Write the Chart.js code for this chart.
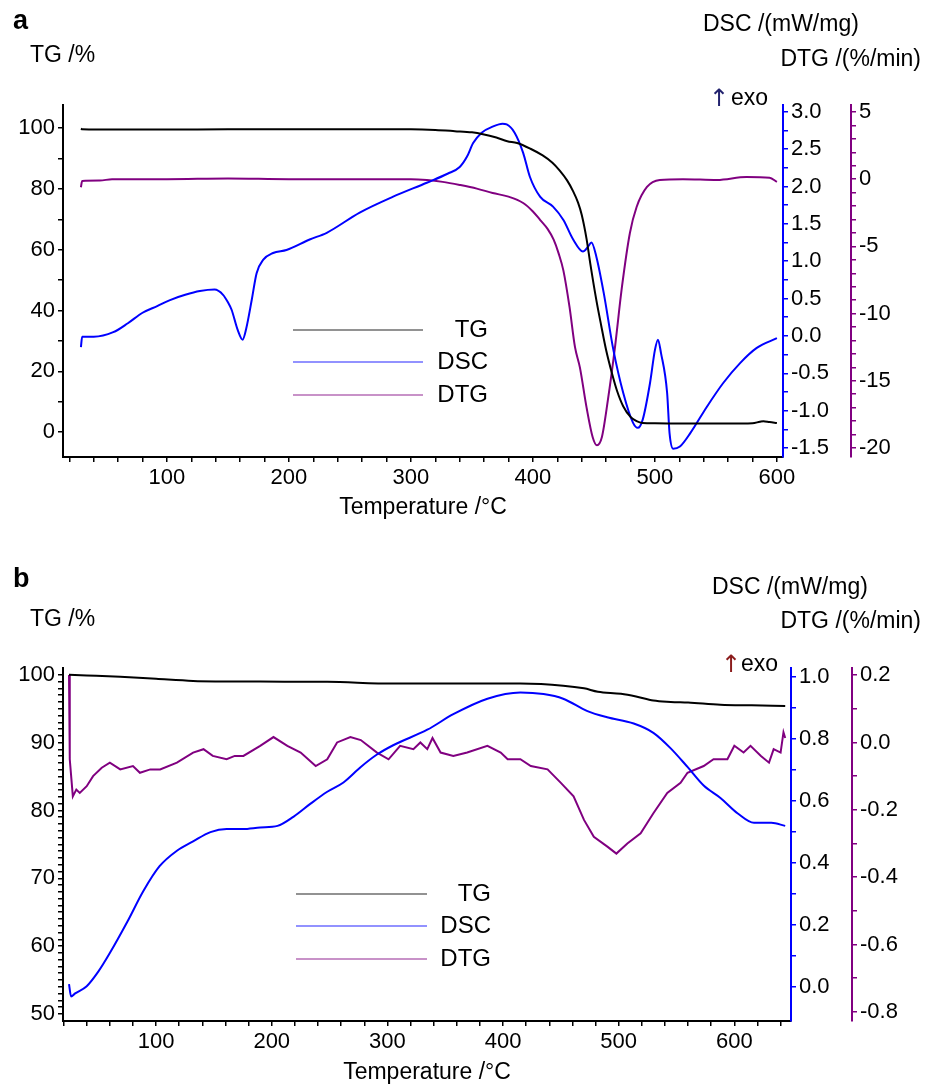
<!DOCTYPE html>
<html>
<head>
<meta charset="utf-8">
<script src="https://cdn.jsdelivr.net/npm/chart.js@4.4.1/dist/chart.umd.min.js"></script>
<style>
  html, body { margin: 0; padding: 0; background: #fff; }
  #wrapA { position: absolute; left: 0; top: 0; width: 936px; height: 540px; }
  #wrapB { position: absolute; left: 0; top: 540px; width: 936px; height: 546px; }
</style>
</head>
<body>
<div id="wrapA"><canvas id="chartA" width="936" height="540"></canvas></div>
<div id="wrapB"><canvas id="chartB" width="936" height="546"></canvas></div>
<script>
// ---- panel a data ----
const tempA_TG = [29.5, 30.5, 60, 100, 150, 200, 250, 300, 320, 336, 350, 359, 370, 379, 387, 398, 408, 416, 422, 428, 433, 437, 440, 444, 447, 452, 456, 460, 465, 469, 474, 480, 485, 490, 500, 530, 560, 580, 586, 589, 594, 600];
const tgA = [99.8, 99.6, 99.5, 99.5, 99.6, 99.6, 99.6, 99.6, 99.4, 99.0, 98.6, 98.0, 96.9, 95.7, 95.1, 93.2, 91.0, 88.6, 86.0, 82.8, 79.2, 75.5, 71.5, 63.5, 55.5, 43.4, 35.0, 27, 19, 13.5, 8.5, 5.0, 3.6, 3.0, 2.9, 2.8, 2.8, 2.9, 3.4, 3.6, 3.3, 3.0];

const tempA_DSC = [29.5, 30.5, 40, 56, 68, 80, 92, 102.5, 115, 127, 139, 146, 150, 153, 158, 162, 165, 169.5, 173.5, 179, 187, 198, 217, 231, 258, 285, 313, 330, 340, 346, 351, 358, 367, 375, 378.5, 385, 392, 397.5, 406, 416.5, 425, 433, 441, 445, 448, 452, 458, 466, 474, 482, 486, 490, 496, 500, 502.5, 505, 510, 512, 515, 520.5, 529, 542.5, 556, 570, 583.5, 600];
const dscA = [-0.15, -0.01, -0.01, 0.05, 0.17, 0.31, 0.40, 0.48, 0.55, 0.60, 0.62, 0.55, 0.45, 0.35, 0.08, -0.05, 0.10, 0.48, 0.84, 1.02, 1.11, 1.15, 1.29, 1.38, 1.65, 1.86, 2.05, 2.17, 2.26, 2.40, 2.58, 2.72, 2.80, 2.84, 2.83, 2.72, 2.45, 2.13, 1.86, 1.73, 1.55, 1.29, 1.13, 1.19, 1.25, 1.06, 0.58, -0.19, -0.76, -1.16, -1.23, -1.12, -0.63, -0.19, -0.05, -0.23, -0.76, -1.30, -1.51, -1.48, -1.30, -0.95, -0.63, -0.36, -0.16, -0.03];

const tempA_DTG = [29.5, 30.5, 45, 55, 100, 150, 200, 250, 300, 313, 326, 340, 354, 367, 380, 392, 400, 406, 412, 417, 421, 425, 430, 434.5, 438.5, 444, 449, 452.5, 456.5, 461.5, 467, 473, 479.5, 485, 493.5, 504, 523, 551, 575, 594, 600];
const dtgA = [-0.6, -0.13, -0.1, 0.0, 0.0, 0.05, 0.0, 0.0, 0.0, -0.06, -0.2, -0.43, -0.7, -1.03, -1.3, -1.77, -2.4, -3.04, -3.7, -4.5, -5.5, -6.8, -9.5, -12.5, -14, -17, -19.2, -19.8, -19.2, -16.4, -12.7, -8.0, -4.0, -2.07, -0.58, -0.06, 0.0, -0.06, 0.16, 0.1, -0.2];

// ---- panel b data ----
const tempB_TG = [24.7, 40, 69, 100, 132, 190, 248, 305, 363, 415, 452, 470, 482, 502, 515, 530, 545, 560, 588, 615, 644];
const tgB = [100.0, 99.9, 99.7, 99.4, 99.1, 99.0, 98.96, 98.7, 98.7, 98.7, 98.4, 98.0, 97.5, 97.2, 96.8, 96.2, 96.0, 95.9, 95.6, 95.5, 95.4];

const tempB_DSC = [24.7, 26.5, 30, 40, 50, 60, 75, 89, 103, 118, 132, 147, 161, 175, 190, 205, 219, 233, 248, 262, 277, 291, 305, 334.5, 357, 386.5, 415, 435, 452, 473, 490, 513, 530, 545, 559.5, 573.5, 588, 603, 617, 632, 644];
const dscB = [0.01, -0.03, -0.02, 0.003, 0.05, 0.11, 0.21, 0.31, 0.39, 0.44, 0.47, 0.50, 0.51, 0.51, 0.515, 0.52, 0.55, 0.59, 0.63, 0.66, 0.71, 0.75, 0.78, 0.83, 0.88, 0.93, 0.95, 0.945, 0.93, 0.89, 0.87, 0.85, 0.82, 0.77, 0.71, 0.65, 0.61, 0.56, 0.53, 0.53, 0.52];

const tempB_DTG = [24.7, 25.2, 25.5, 28, 31, 34, 40, 45.5, 53, 60, 69, 80, 86, 95, 103.5, 118, 132, 141, 149, 161, 168, 175.5, 190, 201.5, 213.5, 225, 238, 248, 256.5, 268, 277, 291, 301, 311, 322.5, 328.5, 334.5, 339, 346, 357, 369, 386.5, 398, 404, 415, 424, 438.5, 450, 461, 470, 478.5, 490.5, 498, 507.5, 519, 530, 542, 553.5, 559.5, 573.5, 582, 594, 600, 608, 614, 623, 630, 634, 640, 642.5, 644];
const dtgB = [0.2, 0.05, -0.05, -0.16, -0.14, -0.15, -0.13, -0.10, -0.075, -0.06, -0.08, -0.07, -0.09, -0.08, -0.08, -0.06, -0.03, -0.02, -0.04, -0.05, -0.04, -0.04, -0.01, 0.016, -0.01, -0.03, -0.07, -0.05, 0.0, 0.016, 0.007, -0.03, -0.05, -0.01, -0.02, 0.0, -0.02, 0.013, -0.03, -0.04, -0.03, -0.01, -0.03, -0.05, -0.05, -0.07, -0.08, -0.12, -0.16, -0.23, -0.28, -0.31, -0.33, -0.30, -0.27, -0.21, -0.15, -0.12, -0.09, -0.07, -0.05, -0.05, -0.01, -0.03, -0.01, -0.04, -0.06, -0.02, -0.03, 0.03, 0.013];

const seriesNames = ['TG', 'DSC', 'DTG'];
const seriesColors = ['#000000', '#0000ff', '#800080'];

const FONT = '"Liberation Sans", Arial, sans-serif';

function pts(xs, ys) {
  return xs.map((x, i) => ({ x: x, y: ys[i] }));
}

function tickRange(from, to, step) {
  const out = [];
  const n = Math.round((to - from) / step);
  for (let i = 0; i <= n; i++) out.push(+(from + i * step).toFixed(4));
  return out;
}

function isMajor(v, major) {
  const r = v / major;
  return Math.abs(r - Math.round(r)) < 1e-6;
}

function yAxis(ax, pos, width, color, weight) {
  return {
    type: 'linear',
    position: pos,
    weight: weight,
    min: ax.min,
    max: ax.max,
    afterFit: (s) => { s.width = width; },
    afterBuildTicks: (s) => { s.ticks = tickRange(ax.from, ax.to, ax.minor).map(v => ({ value: v })); },
    border: { display: true, color: color, width: 2 },
    grid: { drawOnChartArea: false, drawTicks: true, tickLength: 5, color: color, lineWidth: 1.5 },
    ticks: {
      autoSkip: false,
      padding: 3,
      color: '#000',
      font: { family: FONT, size: 22 },
      callback: (v) => isMajor(v, ax.major) ? (Math.round(v / ax.major) * ax.major).toFixed(ax.dec) : ''
    }
  };
}

function makeChart(id, c) {
  const textPlugin = {
    id: 'texts_' + id,
    afterDraw(chart) {
      const ctx = chart.ctx;
      ctx.save();
      c.texts.forEach(t => {
        ctx.font = (t.bold ? 'bold ' : '') + t.size + 'px ' + (t.family || FONT);
        ctx.fillStyle = t.color || '#000';
        ctx.textAlign = t.align || 'left';
        ctx.textBaseline = 'middle';
        ctx.fillText(t.text, t.x, t.y);
      });
      // legend inside the plot
      const L = c.legend;
      chart.data.datasets.forEach((ds, i) => {
        ctx.strokeStyle = ds.borderColor;
        ctx.globalAlpha = 0.85;
        ctx.lineWidth = 1.2;
        ctx.beginPath();
        ctx.moveTo(L.x1, L.ys[i]);
        ctx.lineTo(L.x2, L.ys[i]);
        ctx.stroke();
        ctx.globalAlpha = 1;
        ctx.font = '24px ' + FONT;
        ctx.fillStyle = '#000';
        ctx.textAlign = 'right';
        ctx.textBaseline = 'middle';
        ctx.fillText(ds.label, L.textX, L.ys[i]);
      });
      ctx.restore();
    }
  };

  const datasets = c.series.map((s, i) => ({
    label: seriesNames[i],
    data: s,
    yAxisID: ['tg', 'dsc', 'dtg'][i],
    borderColor: seriesColors[i],
    borderWidth: 2,
    pointRadius: 0,
    fill: false,
    tension: c.tension[i],
    cubicInterpolationMode: c.tension[i] ? 'monotone' : 'default'
  }));

  return new Chart(document.getElementById(id), {
    type: 'line',
    data: { datasets: datasets },
    options: {
      responsive: false,
      animation: false,
      layout: { padding: { top: c.padTop, left: 0, right: 0, bottom: 0 } },
      plugins: { legend: { display: false }, tooltip: { enabled: false } },
      scales: {
        x: {
          type: 'linear',
          position: 'bottom',
          min: c.x.min,
          max: c.x.max,
          afterFit: (s) => { s.height = c.xAxisH; },
          afterBuildTicks: (s) => { s.ticks = tickRange(c.x.from, c.x.to, c.x.minor).map(v => ({ value: v })); },
          border: { display: true, color: '#000', width: 2 },
          grid: { drawOnChartArea: false, drawTicks: true, tickLength: 5, color: '#000', lineWidth: 1.5 },
          ticks: {
            autoSkip: false, maxRotation: 0, minRotation: 0, padding: 3, color: '#000',
            font: { family: FONT, size: 22 },
            callback: (v) => isMajor(v, c.x.major) ? String(Math.round(v)) : ''
          },
          title: {
            display: true, text: 'Temperature /°C', color: '#000',
            font: { family: FONT, size: 23 },
            padding: { top: 0, bottom: c.titlePadBottom }
          }
        },
        tg: yAxis(c.tg, 'left', c.tgW, '#000', 0),
        dsc: yAxis(c.dsc, 'right', c.dscW, '#0000ff', 1),
        dtg: yAxis(c.dtg, 'right', c.dtgW, '#800080', 2)
      }
    },
    plugins: [textPlugin]
  });
}

makeChart('chartA', {
  padTop: 105, xAxisH: 83, titlePadBottom: 19, tension: [0.3, 0.2, 0.2],
  tgW: 63, dscW: 68, dtgW: 85,
  x: { min: 14.8, max: 605, from: 20, to: 600, minor: 20, major: 100 },
  tg: { min: -8.2, max: 107.6, from: 0, to: 100, minor: 10, major: 20, dec: 0 },
  dsc: { min: -1.62, max: 3.09, from: -1.5, to: 3.0, minor: 0.25, major: 0.5, dec: 1 },
  dtg: { min: -20.67, max: 5.52, from: -20, to: 5, minor: 1, major: 5, dec: 0 },
  series: [pts(tempA_TG, tgA), pts(tempA_DSC, dscA), pts(tempA_DTG, dtgA)],
  legend: { x1: 293, x2: 423, textX: 488, ys: [330, 362, 395] },
  texts: [
    { text: 'a', x: 13, y: 22, size: 27, bold: true },
    { text: 'TG /%', x: 30, y: 56, size: 23 },
    { text: 'DSC /(mW/mg)', x: 703, y: 25, size: 23 },
    { text: 'DTG /(%/min)', x: 921, y: 60, size: 23, align: 'right' },
    { text: '↑', x: 709, y: 100, size: 24, color: '#22226e', family: '"DejaVu Sans", sans-serif' },
    { text: 'exo', x: 731, y: 99, size: 23 }
  ]
});

makeChart('chartB', {
  padTop: 128, xAxisH: 65, titlePadBottom: 0, tension: [0.3, 0.3, 0],
  tgW: 63, dscW: 61, dtgW: 84,
  x: { min: 19.5, max: 649, from: 20, to: 640, minor: 20, major: 100 },
  tg: { min: 48.96, max: 101.0, from: 50, to: 100, minor: 1, major: 10, dec: 0 },
  dsc: { min: -0.109, max: 1.029, from: 0, to: 1.0, minor: 0.1, major: 0.2, dec: 1 },
  dtg: { min: -0.827, max: 0.221, from: -0.8, to: 0.2, minor: 0.1, major: 0.2, dec: 1 },
  series: [pts(tempB_TG, tgB), pts(tempB_DSC, dscB), pts(tempB_DTG, dtgB)],
  legend: { x1: 296, x2: 427, textX: 491, ys: [354, 386, 419] },
  texts: [
    { text: 'b', x: 13, y: 40, size: 27, bold: true },
    { text: 'TG /%', x: 30, y: 80, size: 23 },
    { text: 'DSC /(mW/mg)', x: 712, y: 48, size: 23 },
    { text: 'DTG /(%/min)', x: 921, y: 82, size: 23, align: 'right' },
    { text: '↑', x: 721, y: 126, size: 24, color: '#8b1c1c', family: '"DejaVu Sans", sans-serif' },
    { text: 'exo', x: 741, y: 125, size: 23 }
  ]
});
</script>
</body>
</html>
